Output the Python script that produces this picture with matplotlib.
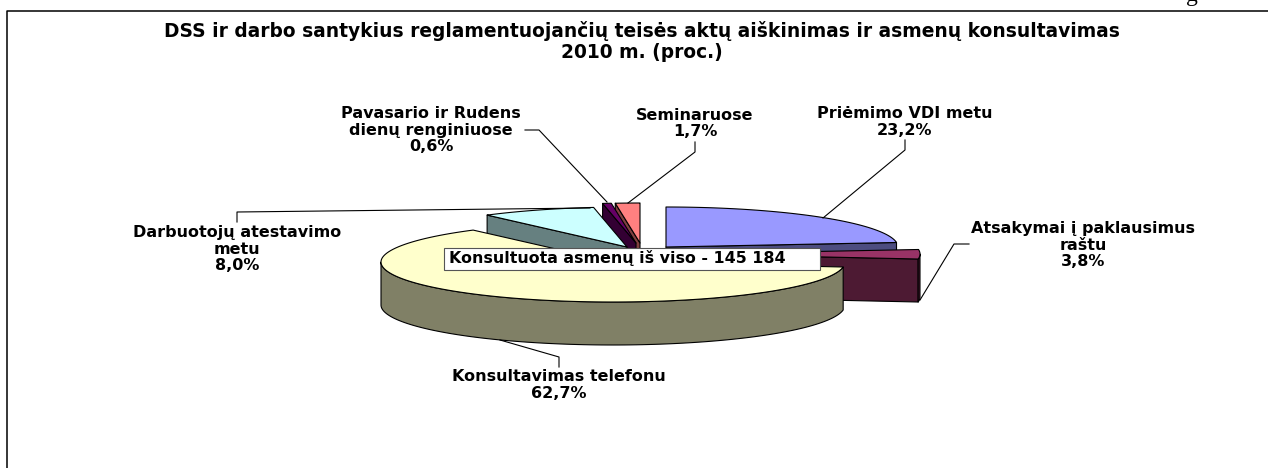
import numpy as np
import matplotlib
matplotlib.use('Agg')
import matplotlib.pyplot as plt
from matplotlib.colors import to_rgb
from matplotlib.patches import Polygon, Rectangle

plt.rcParams['font.family'] = ['DejaVu Sans']

# Datos
categories = ['Priėmimo VDI metu', 'Atsakymai į paklausimus\nraštu', 'Konsultavimas telefonu',
              'Darbuotojų atestavimo\nmetu', 'Pavasario ir Rudens\ndienų renginiuose', 'Seminaruose']
values = [23.2, 3.8, 62.7, 8.0, 0.6, 1.7]
title = 'DSS ir darbo santykius reglamentuojančių teisės aktų aiškinimas ir asmenų konsultavimas\n2010 m. (proc.)'
note = 'Konsultuota asmenų iš viso - 145 184'

# Estilo y posiciones (pixeles de la imagen)
colors = ['#9999FF', '#993366', '#FFFFCC', '#CCFFFF', '#660066', '#FF8080']
apex = [(666, 247), (688, 254), (613, 262), (627, 247), (636, 243), (640, 243)]
draw_order = [0, 5, 4, 3, 1, 2]
RX, RY, DEPTH = 232, 40, 43
label_pos = [(905, 122), (1083, 245), (559, 385), (237, 249), (431, 130), (695, 123.5)]
leaders = [
    [(905, 140), (905, 150), (823, 218)],
    [(969, 244), (954, 244), (920, 300)],
    [(559, 367), (559, 357), (500, 340)],
    [(237, 222), (237, 212), (590, 208)],
    [(525, 130), (539, 130), (607, 202)],
    [(695, 142), (695, 152), (628, 203)],
]


def rim(c, a0, a1, drop=0):
    t = np.radians(np.linspace(a0, a1, 120))
    return np.column_stack([c[0] + RX * np.cos(t), c[1] - RY * np.sin(t) + drop])


def dark(color):
    return tuple(v * 0.5 for v in to_rgb(color))


fig = plt.figure(figsize=(12.68, 4.68), dpi=100)
ax = fig.add_axes([0, 0, 1, 1])
ax.set_xlim(0, 1268)
ax.set_ylim(468, 0)
ax.axis('off')

# Marco del grafico
ax.plot([7, 7, 1268], [468, 10.5, 10.5], color='black', lw=1.1, solid_capstyle='butt')

# Rebanadas en sentido horario desde las 12
edges = 90 - np.concatenate([[0], np.cumsum(values)]) * 360 / np.sum(values)
for i in draw_order:
    a0, a1 = edges[i], edges[i + 1]
    c = apex[i]
    side = dark(colors[i])
    style = dict(edgecolor='black', lw=0.8, joinstyle='round')
    # caras de corte visibles
    for a, visible in ((a0, np.cos(np.radians(a0)) < -1e-6), (a1, np.cos(np.radians(a1)) > 1e-6)):
        if visible:
            p = rim(c, a, a)[0]
            ax.add_patch(Polygon([c, p, (p[0], p[1] + DEPTH), (c[0], c[1] + DEPTH)], facecolor=side, **style))
    # pared exterior: solo la mitad delantera de la elipse
    low, high = a1 % 360, a1 % 360 + (a0 - a1)
    for start in (180, 540):
        w0, w1 = max(low, start), min(high, start + 180)
        if w1 > w0:
            ax.add_patch(Polygon(np.vstack([rim(c, w0, w1), rim(c, w1, w0, DEPTH)]), facecolor=side, **style))
    ax.add_patch(Polygon(np.vstack([[c], rim(c, a0, a1)]), facecolor=colors[i], **style))

# Lineas guia y etiquetas
for line in leaders:
    xs, ys = zip(*line)
    ax.plot(xs, ys, color='black', lw=0.8)
for name, v, pos in zip(categories, values, label_pos):
    ax.text(pos[0], pos[1], f"{name}\n{v:.1f}%".replace('.', ','), ha='center', va='center',
            fontsize=11.5, fontweight='bold', linespacing=1.1, color='black')

ax.text(642, 41.5, title, ha='center', va='center', fontsize=13.4, fontweight='bold', linespacing=1.12)

# Recuadro del total
ax.add_patch(Rectangle((444, 248), 376, 22, facecolor='white', edgecolor='#555555', lw=0.8, zorder=5))
ax.text(449, 258.5, note, ha='left', va='center', fontsize=11.4, fontweight='bold', zorder=6)

# Resto de la pagina, cortado arriba
ax.text(1192, 1, 'g', family='Liberation Serif', fontsize=17, ha='center', va='baseline')

fig.savefig('out.png', dpi=100)
